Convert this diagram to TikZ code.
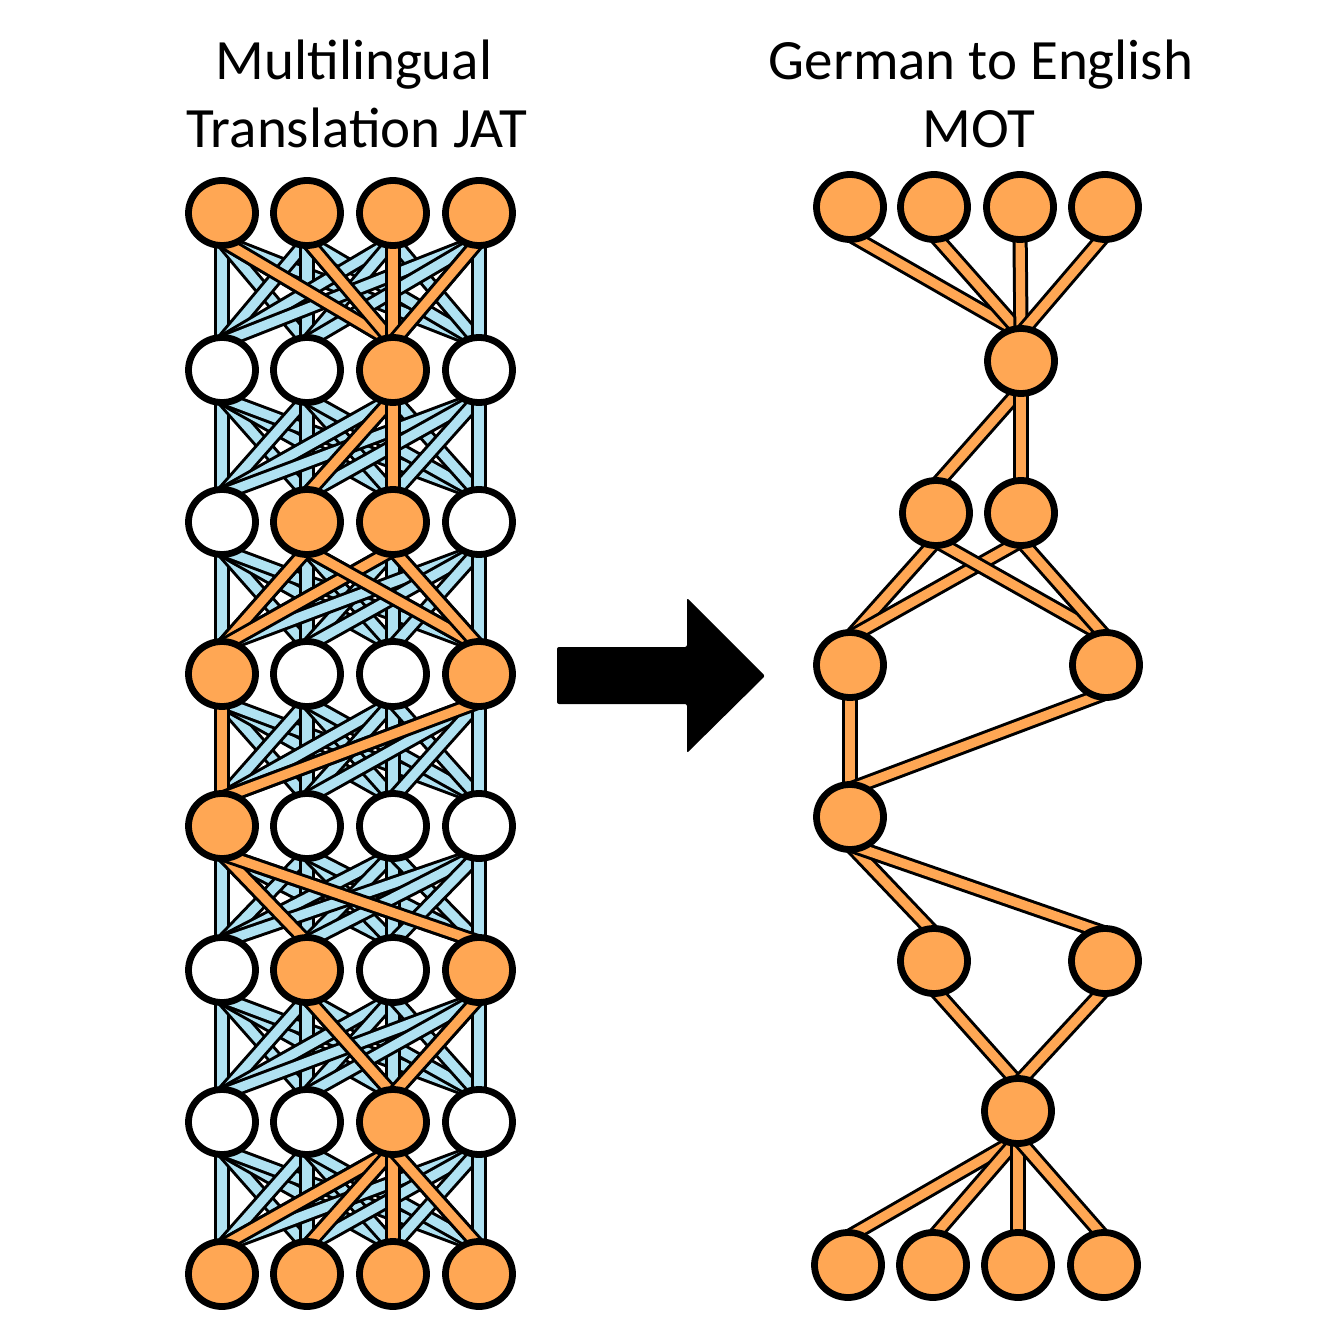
\documentclass[tikz,border=0pt]{standalone}
\usepackage{fontspec}
\setmainfont{Carlito}
\usetikzlibrary{shapes.geometric}
\pgfdeclarelayer{edges}
\pgfsetlayers{edges,main}
\definecolor{nodeorange}{RGB}{255,167,84}
\definecolor{edgeblue}{RGB}{176,226,242}
\colorlet{on}{nodeorange}
\colorlet{off}{white}
\tikzset{
  neuron/.style={ellipse, draw=black, line width=3.4pt, minimum width=33.5pt, minimum height=32.5pt, inner sep=0pt},
  blueedge/.style={draw=black, line width=1.5pt, double=edgeblue, double distance=4.6pt},
  orangeedge/.style={draw=black, line width=1.5pt, double=nodeorange, double distance=4.6pt},
  titletext/.style={font=\fontsize{28.5}{34}\selectfont, inner sep=0pt, anchor=base},
  bigarrow/.style={fill=black, rounded corners=1pt}
}
\begin{document}
\begin{tikzpicture}[x=0.5pt,y=-0.5pt]
\useasboundingbox (0,0) rectangle (1321,1325);

% titles
\node[titletext] (tl1) at (354,80) {Multilingual};
\node[titletext] (tl2) at (357,148) {Translation JAT};
\node[titletext] (tr1) at (981,80) {German to English};
\node[titletext] (tr2) at (979,148) {MOT};

% left network nodes
\foreach \r/\y/\fa/\fb/\fc/\fd in {
  1/213/on/on/on/on,
  2/370/off/off/on/off,
  3/522/off/on/on/off,
  4/674/on/off/off/on,
  5/826/on/off/off/off,
  6/970/off/on/off/on,
  7/1122/off/off/on/off,
  8/1274/on/on/on/on}{
  \node[neuron, fill=\fa] (L\r1) at (222,\y) {};
  \node[neuron, fill=\fb] (L\r2) at (307,\y) {};
  \node[neuron, fill=\fc] (L\r3) at (393,\y) {};
  \node[neuron, fill=\fd] (L\r4) at (479,\y) {};
}

% right network nodes
\foreach \r/\c/\x/\y in {
  1/1/850/207, 1/2/934/207, 1/3/1020/207, 1/4/1105/207,
  2/3/1021/361,
  3/2/936/513, 3/3/1021/513,
  4/1/850/665, 4/4/1106/665,
  5/1/850/817,
  6/2/934/961, 6/4/1105/961,
  7/3/1018/1111,
  8/1/848/1265, 8/2/933/1265, 8/3/1018/1265, 8/4/1104/1265}{
  \node[neuron, fill=nodeorange] (R\r\c) at (\x,\y) {};
}

\begin{pgfonlayer}{edges}
  % full connections of the left network
  \foreach \r in {1,...,7}{
    \pgfmathtruncatemacro\n{\r+1}
    \foreach \i in {1,...,4}{
      \foreach \j in {1,...,4}{
        \draw[blueedge] ([yshift=4pt]L\r\i.south) -- ([yshift=-4pt]L\n\j.north);
      }
    }
  }
  % selected paths
  \foreach \r/\i/\j in {1/1/3,1/2/3,1/3/3,1/4/3,
                        2/3/2,2/3/3,
                        3/2/1,3/3/1,3/2/4,3/3/4,
                        4/1/1,4/4/1,
                        5/1/2,5/1/4,
                        6/2/3,6/4/3,
                        7/3/1,7/3/2,7/3/3,7/3/4}{
    \pgfmathtruncatemacro\n{\r+1}
    \draw[orangeedge] ([yshift=4pt]L\r\i.south) -- ([yshift=-4pt]L\n\j.north);
    \draw[orangeedge] ([yshift=4pt]R\r\i.south) -- ([yshift=-4pt]R\n\j.north);
  }
\end{pgfonlayer}

% arrow
\fill[bigarrow] (557,647) -- (687,647) -- (687,598) -- (765,676) -- (687,753) -- (687,704) -- (557,704) -- cycle;
\end{tikzpicture}
\end{document}
